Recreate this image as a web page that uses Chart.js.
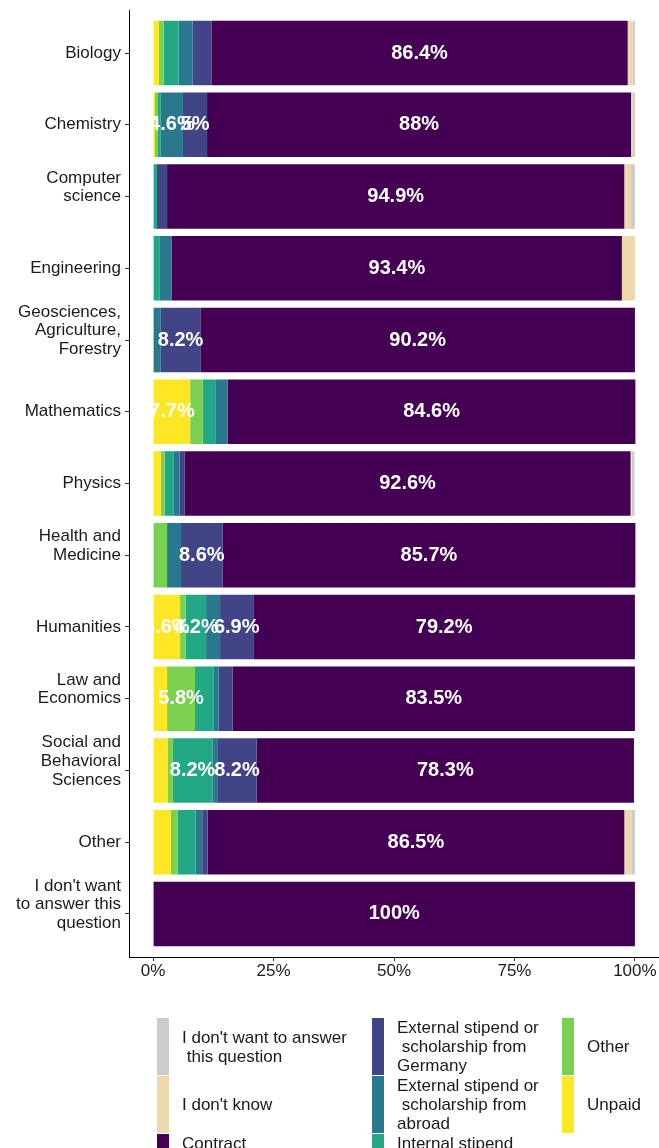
<!DOCTYPE html>
<html><head><meta charset="utf-8">
<script src="https://cdn.jsdelivr.net/npm/chart.js@4.4.1/dist/chart.umd.min.js"></script>
<style>
html,body{margin:0;padding:0;background:#fff;}
#wrap{position:relative;width:659px;height:1148px;overflow:hidden;}
#c{position:absolute;left:0;top:0;}
#legend{position:absolute;left:0;top:0;width:659px;height:1148px;font-family:'Liberation Sans',Arial,sans-serif;font-size:17px;color:#1a1a1a;}
.key{position:absolute;width:12px;}
.lab{position:absolute;display:flex;align-items:center;}
.lab span{white-space:pre;line-height:19px;}
</style></head>
<body><div id="wrap"><canvas id="c" width="659" height="1000"></canvas><div id="legend"></div></div>
<script>
// ---- data ----
const categories = ["Biology","Chemistry","Computer\nscience","Engineering","Geosciences,\nAgriculture,\nForestry","Mathematics","Physics","Health and\nMedicine","Humanities","Law and\nEconomics","Social and\nBehavioral\nSciences","Other","I don't want\nto answer this\nquestion"];
const seriesNames = ["Unpaid","Other","Internal stipend","External stipend or\n scholarship from\nabroad","External stipend or\n scholarship from\nGermany","Contract","I don't know","I don't want to answer\n this question"];
const seriesColors = ["#FDE725","#7AD151","#22A884","#2A788E","#414487","#440154","#EED9AE","#CCCCCC"];
const unpaid    = [1.2,0.4,0,0,0,7.7,1.6,0,5.6,2.9,3.1,3.7,0];
const other     = [1.0,0.6,0,0,0,2.6,0.8,2.9,1.2,5.8,1.0,1.4,0];
const internal  = [3.1,0.6,0.8,1.4,0,2.6,1.9,0,4.2,3.9,8.2,3.7,0];
const abroad    = [2.9,4.6,0,2.5,1.6,2.6,1.2,2.9,2.9,1.0,1.0,1.4,0];
const germany   = [3.9,5.0,2.1,0,8.2,0,1.0,8.6,6.9,2.9,8.2,1.1,0];
const contract  = [86.4,88.0,94.9,93.4,90.2,84.6,92.6,85.7,79.2,83.5,78.3,86.5,100];
const dontKnow  = [1.0,0.4,1.4,2.7,0,0,0.2,0,0,0,0,1.6,0];
const dontWant  = [0.5,0.4,0.8,0,0,0,0.6,0,0,0,0,0.6,0];
const xTicks = [0,25,50,75,100];
const labelThreshold = 4;

const seriesValues = [unpaid,other,internal,abroad,germany,contract,dontKnow,dontWant];
const FONT = "'Liberation Sans', Arial, sans-serif";
Chart.defaults.font.family = FONT;

const fmt = v => (Math.round(v*10)/10) + '%';

const segLabels = {
  id:'segLabels',
  afterDatasetsDraw(chart){
    const ctx = chart.ctx;
    ctx.save();
    ctx.font = "bold 20px " + FONT;
    ctx.fillStyle = '#ffffff';
    ctx.textAlign = 'center';
    ctx.textBaseline = 'middle';
    chart.data.datasets.forEach((ds, di) => {
      const meta = chart.getDatasetMeta(di);
      meta.data.forEach((el, i) => {
        const v = ds.data[i].x;
        if (v >= labelThreshold) {
          const p = el.getCenterPoint();
          ctx.fillText(fmt(v), p.x, p.y);
        }
      });
    });
    ctx.restore();
  }
};

const datasets = seriesNames.map((name, si) => ({
  label: name,
  data: seriesValues[si].map((v, i) => ({x: v, y: i})),
  backgroundColor: seriesColors[si],
  borderWidth: 0,
  barPercentage: 0.9,
  categoryPercentage: 1.0
}));

new Chart(document.getElementById('c'), {
  type: 'bar',
  data: { datasets },
  plugins: [segLabels],
  options: {
    indexAxis: 'y',
    responsive: false,
    animation: false,
    layout: { padding: { top: 10, left: 0, right: 0, bottom: 0 } },
    plugins: { legend: { display: false }, tooltip: { enabled: false } },
    scales: {
      x: {
        type: 'linear', min: -5, max: 105, stacked: true, offset: false,
        afterBuildTicks: s => { s.ticks = xTicks.map(v => ({value: v})); },
        afterFit: s => { s.height = 43; s.paddingLeft = 0; s.paddingRight = 0; },
        ticks: { callback: v => v + '%', font: { size: 17 }, color: '#1a1a1a', padding: 0, maxRotation: 0, autoSkip: false },
        grid: { display: true, offset: false, drawOnChartArea: false, drawTicks: true, tickLength: 4, color: '#333333' },
        border: { display: true, color: '#000000', width: 1 }
      },
      y: {
        type: 'linear', reverse: true, min: -0.6, max: categories.length - 1 + 0.6, stacked: true, offset: false,
        afterBuildTicks: s => { s.ticks = categories.map((_, i) => ({value: i})); },
        afterFit: s => { s.width = 129; s.paddingTop = 0; s.paddingBottom = 0; },
        ticks: {
          callback: v => { const l = categories[v].split('\n'); return l.length > 1 ? l.concat(['']) : l[0]; },
          font: { size: 17, lineHeight: 1.1 }, color: '#1a1a1a', padding: 4, autoSkip: false
        },
        grid: { display: true, offset: false, drawOnChartArea: false, drawTicks: true, tickLength: 4, color: '#333333' },
        border: { display: true, color: '#000000', width: 1 }
      }
    }
  }
});

// ---- legend (ggplot-style, column-major, reversed order) ----
const legend = document.getElementById('legend');
const order = seriesNames.map((_, i) => i).reverse();
const colX = [157, 372, 562];
const nRows = 3;
const lineH = 19;
const rowLines = [0,0,0];
order.forEach((si, k) => {
  const r = k % nRows;
  rowLines[r] = Math.max(rowLines[r], seriesNames[si].split('\n').length);
});
const rowTop = [];
let yy = 1018;
for (let r = 0; r < nRows; r++) { rowTop.push(yy); yy += rowLines[r] * lineH + 1; }
order.forEach((si, k) => {
  const c = Math.floor(k / nRows), r = k % nRows;
  const h = rowLines[r] * lineH;
  const key = document.createElement('div');
  key.className = 'key';
  key.style.left = colX[c] + 'px';
  key.style.top = rowTop[r] + 'px';
  key.style.height = h + 'px';
  key.style.background = seriesColors[si];
  legend.appendChild(key);
  const lab = document.createElement('div');
  lab.className = 'lab';
  lab.style.left = (colX[c] + 25) + 'px';
  lab.style.top = rowTop[r] + 'px';
  lab.style.height = h + 'px';
  const sp = document.createElement('span');
  sp.textContent = seriesNames[si];
  lab.appendChild(sp);
  legend.appendChild(lab);
});
</script>
</body></html>
